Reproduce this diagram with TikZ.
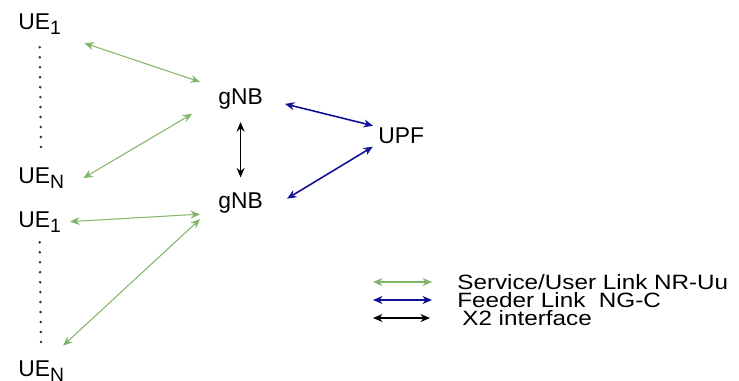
\documentclass[tikz,border=0pt]{standalone}
\usepackage{fontspec}
\setmainfont{Liberation Sans}
\usetikzlibrary{arrows.meta}
\definecolor{uugreen}{RGB}{130,182,104}
\definecolor{ngblue}{RGB}{16,16,150}
\newcommand{\uesub}[1]{\raisebox{-3.4pt}{\fontsize{11}{11}\selectfont #1}}
\newcommand{\keytext}[1]{\scalebox{1.17}[1]{#1}}
\tikzset{
  lbl/.style={inner sep=0, anchor=base west, font=\fontsize{13}{15}\selectfont},
  key/.style={inner sep=0, anchor=base west, font=\fontsize{11.8}{13}\selectfont},
  link/.style={{Stealth[length=1.9mm, width=1.6mm]}-{Stealth[length=1.9mm, width=1.6mm]}, line width=0.6pt},
  uedots/.style={line width=1.6pt, line cap=round, dash pattern=on 0pt off 5.67pt, black!80},
}

\begin{document}
\begin{tikzpicture}[x=0.02cm, y=-0.02cm]
  \useasboundingbox (0, 0) rectangle (739, 380);
  \node[lbl] at (18, 29) (ue1a) {UE\uesub{1}};
  \node[lbl] at (18, 183) (uena) {UE\uesub{N}};
  \node[lbl] at (18, 227) (ue1b) {UE\uesub{1}};
  \node[lbl] at (18, 376) (uenb) {UE\uesub{N}};
  \node[lbl] at (218, 104) (gnba) {gNB};
  \node[lbl] at (218, 208) (gnbb) {gNB};
  \node[lbl] at (378, 143) (upf) {UPF};

  \draw[uedots, shorten <=0.24cm, shorten >=0.39cm] (ue1a.south) -- (uena.north);
  \draw[uedots, shorten <=0.18cm, shorten >=0.35cm] (ue1b.south) -- (uenb.north);

  \draw[link, uugreen, shorten <=0.49cm, shorten >=0.38cm] (ue1a.south east) -- (gnba.north west);
  \draw[link, uugreen, shorten <=0.44cm, shorten >=0.6cm] (uena.south east) -- (gnba.west);
  \draw[link, uugreen, shorten <=0.18cm, shorten >=0.36cm] (ue1b.east) -- (gnbb.south west);
  \draw[link, uugreen, shorten <=0.42cm, shorten >=0.49cm] (uenb.60) -- (gnbb.west);
  \draw[link, line width=0.8pt, shorten <=0.26cm, shorten >=0.29cm] (gnba.south) -- (gnbb.north);
  \draw[link, ngblue, line width=0.9pt, shorten <=0.45cm, shorten >=0.1cm] (gnba.east) -- (upf.north west);
  \draw[link, ngblue, line width=0.9pt, shorten <=0.12cm, shorten >=0.56cm] (upf.south west) -- (gnbb.south east);

  \node[key] at (457, 289) (keyuu) {\keytext{Service/User Link NR-Uu}};
  \node[key] at (457, 307) (keyng) {\keytext{Feeder Link~ NG-C}};
  \node[key] at (462, 325) (keyx2) {\keytext{X2 interface}};
  \draw[link, uugreen] (373, 282) -- (432, 282);
  \draw[link, ngblue, line width=0.9pt] (373, 300) -- (432, 300);
  \draw[link, line width=0.8pt] (373, 318) -- (430, 318);
\end{tikzpicture}
\end{document}
